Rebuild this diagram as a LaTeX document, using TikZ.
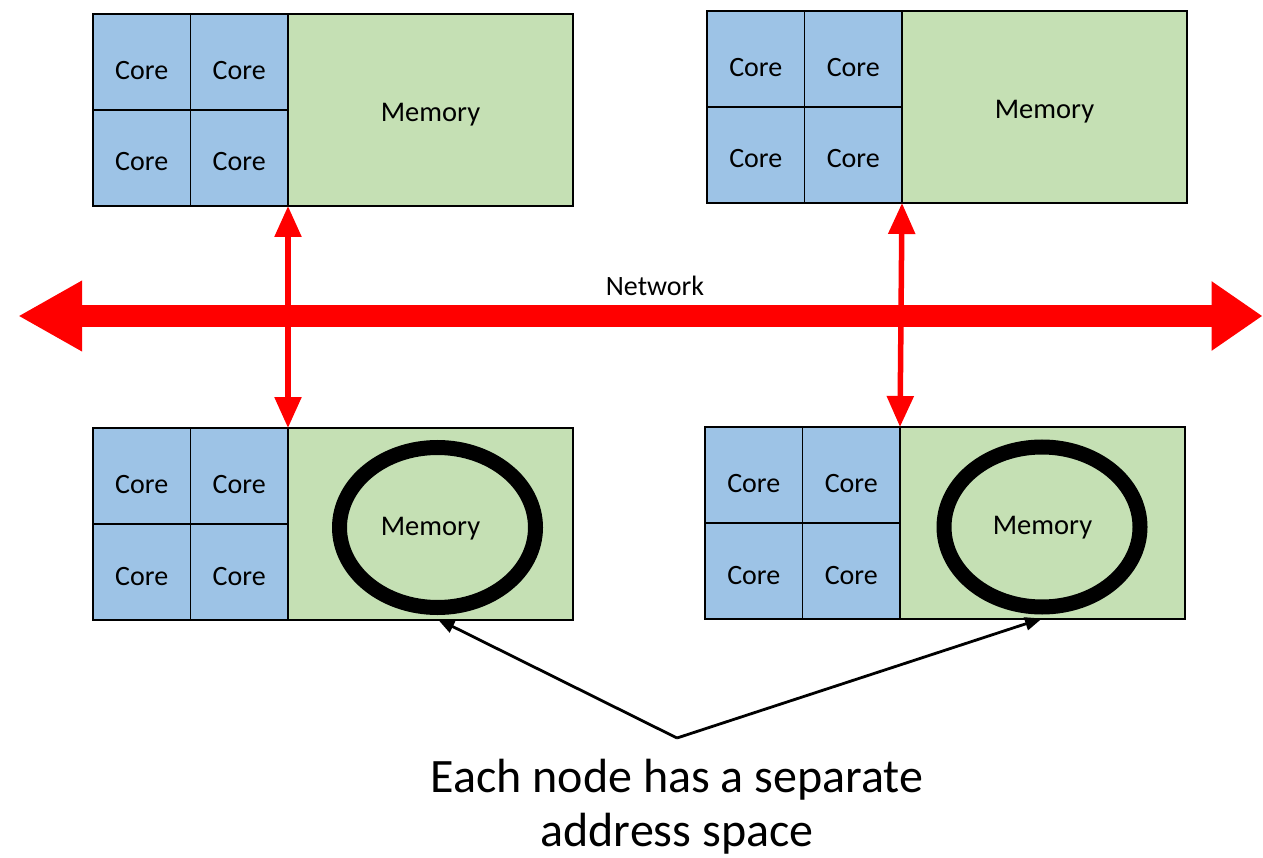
\documentclass[tikz,border=0pt]{standalone}
\usepackage{fontspec}
\setmainfont{Carlito}
\usetikzlibrary{arrows.meta,shapes.geometric}
\definecolor{coreblue}{HTML}{9DC3E6}
\definecolor{memgreen}{HTML}{C5E0B4}
\definecolor{netred}{HTML}{FF0000}
\tikzset{
  corecell/.style={draw=black, line width=1.5pt, fill=coreblue, minimum width=97.5pt, minimum height=96pt, inner sep=0pt, outer sep=0pt, anchor=north west, font=\fontsize{28}{34}\selectfont, text height=35pt, text depth=0pt},
  corelow/.style={corecell, text height=26pt},
  memcell/.style={draw=black, line width=2.5pt, fill=memgreen, minimum width=285pt, minimum height=192pt, inner sep=0pt, outer sep=0pt, anchor=north west, font=\fontsize{28.5}{34}\selectfont, text height=28pt, text depth=5pt},
  frame/.style={draw=black, line width=2.5pt},
  ring/.style={ellipse, draw=black, line width=15pt, minimum width=196pt, minimum height=160pt, inner sep=0pt},
  link/.style={draw=netred, line width=5.5pt, {Triangle[length=31pt,width=26pt]}-{Triangle[length=31pt,width=26pt]}},
  bus/.style={draw=netred, line width=22pt, {Triangle[length=64pt,width=66pt]}-{Triangle[length=51pt,width=66pt]}},
  pointer/.style={draw=black, line width=2.8pt, -{Triangle[length=17pt,width=13pt]}},
}
\newcommand\cpublock[3]{%
  \node[corecell] (#1c1) at (#2,#3) {Core};
  \node[corecell] (#1c2) at (#2+97.5,#3) {Core};
  \node[corelow] (#1c3) at (#2,#3+96) {Core};
  \node[corelow] (#1c4) at (#2+97.5,#3+96) {Core};
  \node[memcell] (#1m) at (#2+195,#3) {Memory};
  \draw[frame] (#1c1.north west) rectangle (#1m.south east);
}
\begin{document}
\begin{tikzpicture}[x=1pt,y=-1pt]
\useasboundingbox (0,0) rectangle (1263,858);
\cpublock{tl}{93}{14}
\cpublock{tr}{707}{11}
\cpublock{bl}{93}{428}
\cpublock{br}{705}{427}
\node[ring] (blring) at (437.5,527.5) {};
\node[ring] (brring) at (1042,527) {};
\coordinate (busL) at (18,316);
\coordinate (busR) at (1262.5,316);
\draw[bus] (busL) -- (busR);
\node[font=\fontsize{28}{34}\selectfont] (netlabel) at (655,286) {Network};
\draw[link] (tlm.south west) -- (blm.north west);
\draw[link] (trm.south west) -- (brm.north west);
\coordinate (apex) at (677,738);
\draw[pointer] (apex) -- ([yshift=-4pt]blring.south);
\draw[pointer] (apex) -- ([yshift=-4pt]brring.south);
\node[font=\fontsize{48}{54}\selectfont, align=center, anchor=north, inner sep=0pt] (caption) at (677,759) {Each node has a separate\\address space};
\end{tikzpicture}
\end{document}
